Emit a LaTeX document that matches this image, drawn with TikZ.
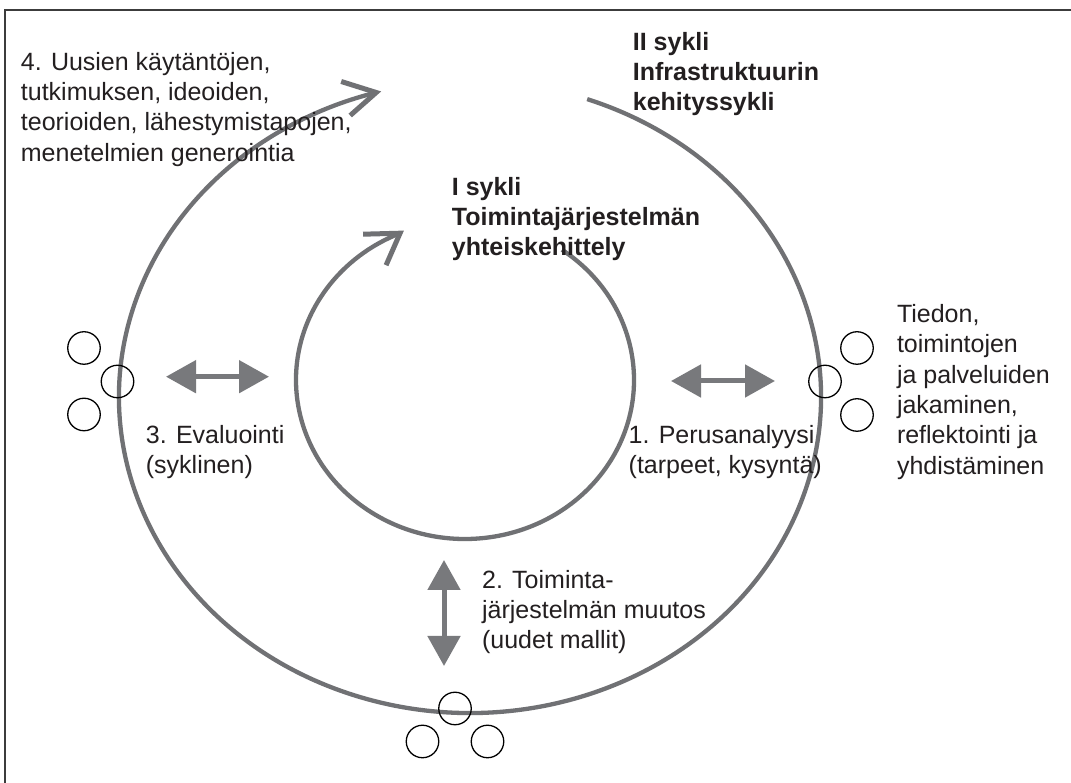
\documentclass[tikz,border=0pt]{standalone}
\usepackage{fontspec}
\setmainfont{Liberation Sans}
\usetikzlibrary{arrows.meta}
\definecolor{cyc}{RGB}{112,113,116}
\definecolor{dbl}{RGB}{120,121,124}
\definecolor{txt}{RGB}{35,31,32}
\definecolor{frm}{RGB}{60,60,60}
\begin{document}
\begin{tikzpicture}[x=1pt,y=1pt,
  cyclearc/.style={draw=cyc, line width=4.3pt},
  chevron/.style={draw=cyc, line width=5pt, line cap=butt, line join=miter},
  dblarrow/.style={draw=dbl, line width=5pt, {Triangle[length=30pt,width=32pt]}-{Triangle[length=30pt,width=32pt]}},
  ring/.style={circle, draw=black, line width=1.3pt, minimum size=32.5pt, inner sep=0pt},
  lbl/.style={anchor=north west, inner sep=0pt, align=left, text=txt, font=\fontsize{25}{30.3}\selectfont},
  blbl/.style={lbl, font=\fontsize{25}{30.3}\selectfont\bfseries}]
\useasboundingbox (0,0) rectangle (1071,783);
\fill[white] (0,0) rectangle (1071,783);
% frame (only top and left edges are visible)
\draw[frm, line width=2pt] (1080,773) -- (5,773) -- (5,-10);

% cycles
\coordinate (outerc) at (470,386);
\coordinate (innerc) at (465,403);
\draw[cyclearc] (outerc) ++(70.5:351 and 316) arc[start angle=70.5, end angle=-254.5, x radius=351, y radius=316] coordinate (otip);
\draw[cyclearc] (innerc) ++(55:169 and 159) arc[start angle=55, end angle=-247.4, x radius=169, y radius=159] coordinate (itip);
% open arrowheads at the ends of the cycles
\draw[chevron] (otip) ++(-35,11) coordinate (oa) (otip) ++(-26,-23) coordinate (ob);
\draw[chevron] (oa) -- (otip) -- (ob);
\draw[chevron] (itip) ++(-37,-1) coordinate (ia) (itip) ++(-14,-32) coordinate (ib);
\draw[chevron] (ia) -- (itip) -- (ib);

% small circles
\node[ring] (l1) at (84,435) {};
\node[ring] (l2) at (117.5,401.5) {};
\node[ring] (l3) at (84,368.5) {};
\node[ring] (r1) at (857,435) {};
\node[ring] (r2) at (825,401.5) {};
\node[ring] (r3) at (857,368) {};
\node[ring] (b1) at (455,74.5) {};
\node[ring] (b2) at (422.5,41.5) {};
\node[ring] (b3) at (487.5,41.5) {};

% double arrows
\coordinate (la) at (166,406.3);
\coordinate (lb) at (269,406.3);
\coordinate (ra) at (671,402);
\coordinate (rb) at (775,402);
\coordinate (va) at (444,223);
\coordinate (vb) at (444,117);
\draw[dblarrow] (la) -- (lb);
\draw[dblarrow] (ra) -- (rb);
\draw[dblarrow] (va) -- (vb);

% labels
\node[lbl] (t4) at (20.7,734.2) {\strut 4. Uusien käytäntöjen,\\tutkimuksen, ideoiden,\\teorioiden, lähestymistapojen,\\menetelmien generointia};
\node[blbl] (c2) at (632.7,754.2) {\strut II sykli\\Infrastruktuurin\\kehityssykli};
\node[blbl] (c1) at (451.7,609.2) {\strut I sykli\\Toimintajärjestelmän\\yhteiskehittely};
\node[lbl] (t3) at (145.7,361.2) {\strut 3. Evaluointi\\(syklinen)};
\node[lbl] (t1) at (628.5,361.2) {\strut 1. Perusanalyysi\\(tarpeet, kysyntä)};
\node[lbl] (ts) at (896.8,481.9) {\strut Tiedon,\\toimintojen\\ja palveluiden\\jakaminen,\\reflektointi ja\\yhdistäminen};
\node[lbl] (t2) at (481.9,216.2) {\strut 2. Toiminta-\\järjestelmän muutos\\(uudet mallit)};
\end{tikzpicture}
\end{document}
